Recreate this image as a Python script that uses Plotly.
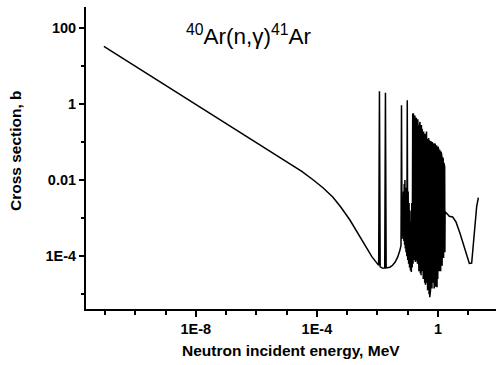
import plotly.graph_objects as go

# ---- data (log10 of energy in MeV, log10 of cross section in b) ----
# smooth 1/v part and valley
smooth_logE = [-11.04, -10.0, -9.0, -8.0, -7.0, -6.0, -5.5, -5.0, -4.5, -4.13, -3.8, -3.47,
               -3.2, -2.91, -2.7, -2.48, -2.33, -2.18, -2.05]
smooth_logS = [1.52, 1.0, 0.5, 0.0, -0.5, -1.0, -1.25, -1.51, -1.77, -1.99, -2.2, -2.45,
               -2.72, -3.05, -3.33, -3.64, -3.84, -4.02, -4.15]

# first isolated resonances and valley floor
res_logE = [-1.96, -1.934, -1.91, -1.82, -1.76, -1.736, -1.712, -1.59, -1.5, -1.42, -1.33, -1.256]
res_logS = [-4.24, 0.34, -4.28, -4.32, -4.31, 0.30, -4.31, -4.29, -4.24, -4.16, -4.02, -3.84]

# resolved resonance region (dense)
dense_logE = [
    -1.222, -1.205, -1.188, -1.16, -1.14, -1.128, -1.116, -1.104, -1.092, -1.08,
    -1.068, -1.056, -1.044, -1.03, -1.015, -1.0, -0.985, -0.97, -0.955, -0.94,
    -0.925, -0.91, -0.895, -0.88, -0.865, -0.85,
    -0.835, -0.823, -0.811, -0.799, -0.787, -0.775, -0.763, -0.751, -0.739, -0.727,
    -0.715, -0.703, -0.691, -0.679, -0.667, -0.655, -0.643, -0.631, -0.619, -0.607,
    -0.595, -0.583, -0.571, -0.559, -0.547, -0.535, -0.523, -0.511, -0.499, -0.487,
    -0.475, -0.463, -0.451, -0.439, -0.427, -0.415, -0.403, -0.391, -0.379, -0.367,
    -0.355, -0.343, -0.331, -0.319, -0.307, -0.295, -0.283, -0.271, -0.259, -0.247,
    -0.235, -0.223, -0.211, -0.199, -0.187, -0.175, -0.163, -0.151, -0.139, -0.127,
    -0.115, -0.103, -0.091, -0.079, -0.067, -0.055, -0.043, -0.031, -0.019, -0.007,
    0.005, 0.017, 0.029, 0.041, 0.053, 0.065, 0.077, 0.089, 0.101, 0.113,
    0.125, 0.137, 0.149, 0.161, 0.173, 0.185, 0.197, 0.209, 0.221, 0.228,
]
dense_logS = [
    -3.72, -0.03, -3.55, -3.2, -2.3, -3.6, -2.1, -3.7, -2.0, -3.8,
    -2.2, -3.9, -2.4, -4.0, 0.1, -4.1, -2.3, -4.2, -2.6, -4.3,
    -2.8, -4.38, -3.1, -4.42, -2.6, -4.3,
    -0.25, -4.2, -0.24, -4.1, -0.6, -4.0, -0.3, -4.15, -0.35, -4.1,
    -0.36, -4.1, -0.5, -4.2, -0.4, -4.3, -0.45, -4.4, -0.6, -4.35,
    -0.47, -4.45, -0.6, -4.5, -0.55, -4.4, -0.65, -4.55, -0.7, -4.6,
    -0.72, -4.5, -0.8, -4.7, -0.78, -4.75, -0.85, -4.65, -0.72, -4.8,
    -0.9, -4.9, -0.95, -4.85, -0.9, -5.0, -0.95, -5.08, -1.0, -4.9,
    -0.97, -4.75, -1.05, -4.85, -1.0, -4.6, -1.05, -4.7, -1.03, -4.85,
    -1.1, -4.7, -1.04, -4.8, -1.15, -4.75, -1.08, -4.82, -1.2, -4.6,
    -1.12, -4.5, -1.25, -4.4, -1.2, -4.35, -1.3, -4.4, -1.25, -4.2,
    -1.35, -4.25, -1.4, -4.1, -1.45, -4.05, -1.55, -4.0, -1.65, -3.9,
]

# fast-neutron tail
tail_logE = [0.235, 0.308, 0.375, 0.485, 0.595, 0.727, 0.893, 1.036, 1.113, 1.19, 1.278, 1.333]
tail_logS = [-2.83, -2.89, -2.95, -2.97, -3.10, -3.40, -3.80, -4.19, -4.18, -3.49, -2.70, -2.46]

# axis ticks
x_major = [1e-8, 1e-4, 1]
x_major_text = ["1E-8", "1E-4", "1"]
x_minor = [1e-11, 1e-10, 1e-9, 1e-7, 1e-6, 1e-5, 1e-3, 1e-2, 1e-1, 10]
y_major = [1e-4, 1e-2, 1, 100]
y_major_text = ["1E-4", "0.01", "1", "100"]
y_minor = [1e-5, 1e-3, 0.1, 10]

logE = smooth_logE + res_logE + dense_logE + tail_logE
logS = smooth_logS + res_logS + dense_logS + tail_logS
energy = [10 ** v for v in logE]
sigma = [10 ** v for v in logS]

FONT = "Liberation Sans, Arial, sans-serif"

fig = go.Figure()
fig.add_trace(go.Scatter(x=energy, y=sigma, mode="lines",
                         line=dict(color="black", width=1.5), showlegend=False,
                         hoverinfo="skip"))

axis_common = dict(
    type="log", showline=True, linewidth=2, linecolor="black", mirror=False,
    showgrid=False, zeroline=False, ticks="outside", tickcolor="black",
    tickwidth=1.5, tickmode="array",
    tickfont=dict(family=FONT, size=14.5, color="black", weight="bold"),
)

fig.update_layout(
    width=496, height=365,
    margin=dict(l=86, r=0, t=7, b=56),
    paper_bgcolor="white", plot_bgcolor="white",
    xaxis=dict(axis_common, range=[-11.63, 1.917], tickvals=x_major, ticktext=x_major_text,
               ticklen=6,
               minor=dict(tickmode="array", tickvals=x_minor, ticks="outside", ticklen=4,
                          tickwidth=1.5, tickcolor="black", showgrid=False)),
    yaxis=dict(axis_common, range=[-5.39, 2.553], tickvals=y_major, ticktext=y_major_text,
               ticklen=5,
               minor=dict(tickmode="array", tickvals=y_minor, ticks="outside", ticklen=3,
                          tickwidth=1.5, tickcolor="black", showgrid=False)),
    annotations=[
        dict(text="<sup>40</sup>Ar(n,γ)<sup>41</sup>Ar", xref="paper", yref="paper",
             x=(249 - 86) / 410, y=(309 - 35) / 302, xanchor="center", yanchor="middle",
             showarrow=False, font=dict(family=FONT, size=22.5, color="black")),
        dict(text="Neutron incident energy, MeV", xref="paper", yref="paper",
             x=0.5, y=(309 - 350) / 302, xanchor="center", yanchor="middle",
             showarrow=False, font=dict(family=FONT, size=15.5, color="black", weight="bold")),
        dict(text="Cross section, b", xref="paper", yref="paper", textangle=-90,
             x=(15 - 86) / 410, y=(309 - 151) / 302, xanchor="center", yanchor="middle",
             showarrow=False, font=dict(family=FONT, size=15.5, color="black", weight="bold")),
    ],
)

fig.write_html("out.html")
